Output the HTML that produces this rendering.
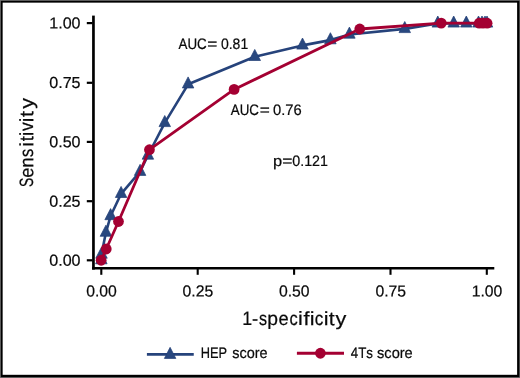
<!DOCTYPE html>
<html><head><meta charset="utf-8"><title>ROC curves: HEP score vs 4Ts score</title>
<style>
html,body{margin:0;padding:0;background:#fff;}
body{width:520px;height:378px;overflow:hidden;}
svg{display:block;will-change:transform;}
text{font-family:"Liberation Sans",sans-serif;fill:#0a0a0a;stroke:#0a0a0a;stroke-width:0.22px;font-kerning:none;font-variant-ligatures:none;}
</style></head><body>
<svg width="520" height="378" viewBox="0 0 520 378">
<rect x="0" y="0" width="520" height="378" fill="#6e6e6e"/>
<rect x="0.85" y="0.85" width="518.5" height="376.3" fill="#000"/>
<rect x="2.65" y="2.65" width="514.45" height="372.15" fill="#fff"/>

<g stroke="#000" fill="none" stroke-linecap="butt">
<path d="M93.45 15.6V269.6" stroke-width="2.7"/>
<path d="M92.1 268.25H494.3" stroke-width="2.7"/>
<path d="M86.8 23.1H92.5" stroke-width="2.2"/>
<path d="M86.8 82.8H92.5" stroke-width="2.2"/>
<path d="M86.8 141.9H92.5" stroke-width="2.2"/>
<path d="M86.8 201.2H92.5" stroke-width="2.2"/>
<path d="M86.8 260.3H92.5" stroke-width="2.2"/>
<path d="M101.3 269V274.8" stroke-width="2.1"/>
<path d="M197.7 269V274.8" stroke-width="2.1"/>
<path d="M294.1 269V274.8" stroke-width="2.1"/>
<path d="M390.5 269V274.8" stroke-width="2.1"/>
<path d="M486.8 269V274.8" stroke-width="2.1"/>
</g>
<text x="49.27" y="28.60" font-size="16" textLength="31.25" lengthAdjust="spacingAndGlyphs" transform="rotate(0.03 49.27 28.60)">1.00</text>
<text x="49.27" y="87.95" font-size="16" textLength="31.25" lengthAdjust="spacingAndGlyphs" transform="rotate(0.03 49.27 87.95)">0.75</text>
<text x="49.27" y="147.25" font-size="16" textLength="31.25" lengthAdjust="spacingAndGlyphs" transform="rotate(0.03 49.27 147.25)">0.50</text>
<text x="49.27" y="206.65" font-size="16" textLength="31.25" lengthAdjust="spacingAndGlyphs" transform="rotate(0.03 49.27 206.65)">0.25</text>
<text x="49.27" y="265.65" font-size="16" textLength="31.25" lengthAdjust="spacingAndGlyphs" transform="rotate(0.03 49.27 265.65)">0.00</text>
<text x="86.19" y="296.50" font-size="16" textLength="30.63" lengthAdjust="spacingAndGlyphs" transform="rotate(0.03 86.19 296.50)">0.00</text>
<text x="182.59" y="296.50" font-size="16" textLength="30.63" lengthAdjust="spacingAndGlyphs" transform="rotate(0.03 182.59 296.50)">0.25</text>
<text x="278.99" y="296.50" font-size="16" textLength="30.63" lengthAdjust="spacingAndGlyphs" transform="rotate(0.03 278.99 296.50)">0.50</text>
<text x="375.39" y="296.50" font-size="16" textLength="30.63" lengthAdjust="spacingAndGlyphs" transform="rotate(0.03 375.39 296.50)">0.75</text>
<text x="471.69" y="296.50" font-size="16" textLength="30.63" lengthAdjust="spacingAndGlyphs" transform="rotate(0.03 471.69 296.50)">1.00</text>
<text y="325.10" font-size="19.3" transform="rotate(0.03 242.14 325.10)"><tspan x="242.14" textLength="9.93" lengthAdjust="spacingAndGlyphs">1</tspan><tspan x="251.88" textLength="6.14" lengthAdjust="spacingAndGlyphs">-</tspan><tspan x="258.95" textLength="8.03" lengthAdjust="spacingAndGlyphs">s</tspan><tspan x="267.25" textLength="10.76" lengthAdjust="spacingAndGlyphs">p</tspan><tspan x="278.52" textLength="10.19" lengthAdjust="spacingAndGlyphs">e</tspan><tspan x="289.40" textLength="8.23" lengthAdjust="spacingAndGlyphs">c</tspan><tspan x="297.95" textLength="4.80" lengthAdjust="spacingAndGlyphs">i</tspan><tspan x="303.53" textLength="6.01" lengthAdjust="spacingAndGlyphs">f</tspan><tspan x="309.80" textLength="4.80" lengthAdjust="spacingAndGlyphs">i</tspan><tspan x="314.77" textLength="8.58" lengthAdjust="spacingAndGlyphs">c</tspan><tspan x="323.80" textLength="4.80" lengthAdjust="spacingAndGlyphs">i</tspan><tspan x="328.68" textLength="5.87" lengthAdjust="spacingAndGlyphs">t</tspan><tspan x="335.45" textLength="10.79" lengthAdjust="spacingAndGlyphs">y</tspan></text>
<text y="0.00" font-size="19.3" transform="translate(33.3 186.3) rotate(-89.97)"><tspan x="-0.68" textLength="9.27" lengthAdjust="spacingAndGlyphs">S</tspan><tspan x="8.52" textLength="10.19" lengthAdjust="spacingAndGlyphs">e</tspan><tspan x="18.55" textLength="10.47" lengthAdjust="spacingAndGlyphs">n</tspan><tspan x="29.34" textLength="8.26" lengthAdjust="spacingAndGlyphs">s</tspan><tspan x="39.60" textLength="4.80" lengthAdjust="spacingAndGlyphs">i</tspan><tspan x="45.02" textLength="5.11" lengthAdjust="spacingAndGlyphs">t</tspan><tspan x="50.31" textLength="4.30" lengthAdjust="spacingAndGlyphs">i</tspan><tspan x="55.24" textLength="8.72" lengthAdjust="spacingAndGlyphs">v</tspan><tspan x="64.03" textLength="4.55" lengthAdjust="spacingAndGlyphs">i</tspan><tspan x="69.24" textLength="6.01" lengthAdjust="spacingAndGlyphs">t</tspan><tspan x="77.59" textLength="10.81" lengthAdjust="spacingAndGlyphs">y</tspan></text>
<text x="178.47" y="49.00" font-size="15.1" textLength="28.24" lengthAdjust="spacingAndGlyphs" transform="rotate(0.03 178.47 49.00)">AUC</text>
<text x="207.36" y="49.00" font-size="15.1" textLength="10.10" lengthAdjust="spacingAndGlyphs" transform="rotate(0.03 207.36 49.00)">=</text>
<text x="220.95" y="49.00" font-size="15.1" textLength="27.23" lengthAdjust="spacingAndGlyphs" transform="rotate(0.03 220.95 49.00)">0.81</text>
<text x="230.82" y="115.00" font-size="15.1" textLength="28.18" lengthAdjust="spacingAndGlyphs" transform="rotate(0.03 230.82 115.00)">AUC</text>
<text x="259.66" y="115.00" font-size="15.1" textLength="10.10" lengthAdjust="spacingAndGlyphs" transform="rotate(0.03 259.66 115.00)">=</text>
<text x="273.02" y="115.00" font-size="15.1" textLength="28.65" lengthAdjust="spacingAndGlyphs" transform="rotate(0.03 273.02 115.00)">0.76</text>
<text x="273.14" y="165.90" font-size="15.1" textLength="9.15" lengthAdjust="spacingAndGlyphs" transform="rotate(0.03 273.14 165.90)">p</text>
<text x="282.35" y="165.90" font-size="15.1" textLength="10.22" lengthAdjust="spacingAndGlyphs" transform="rotate(0.03 282.35 165.90)">=</text>
<text x="292.24" y="165.90" font-size="15.1" textLength="35.76" lengthAdjust="spacingAndGlyphs" transform="rotate(0.03 292.24 165.90)">0.121</text>
<polyline points="101.35,260.10 101.50,254.50 105.90,232.60 110.60,216.00 121.10,193.80 140.10,171.70 147.90,155.50 164.75,122.90 188.10,84.30 254.75,56.80 302.50,45.40 330.40,40.10 349.40,34.50 404.75,28.90 437.80,23.40 453.70,23.40 466.30,23.40 478.50,23.40 482.00,23.40 485.00,23.40 487.00,23.40" fill="none" stroke="#26437b" stroke-width="2.6" stroke-linejoin="round"/>
<g fill="#29487f" stroke="#213d75" stroke-width="0.7" stroke-linejoin="miter"><path d="M101.35 252.70L107.10 263.80L95.60 263.80Z"/><path d="M101.50 247.10L107.25 258.20L95.75 258.20Z"/><path d="M105.90 225.20L111.65 236.30L100.15 236.30Z"/><path d="M110.60 208.60L116.35 219.70L104.85 219.70Z"/><path d="M121.10 186.40L126.85 197.50L115.35 197.50Z"/><path d="M140.10 164.30L145.85 175.40L134.35 175.40Z"/><path d="M147.90 148.10L153.65 159.20L142.15 159.20Z"/><path d="M164.75 115.50L170.50 126.60L159.00 126.60Z"/><path d="M188.10 76.90L193.85 88.00L182.35 88.00Z"/><path d="M254.75 49.40L260.50 60.50L249.00 60.50Z"/><path d="M302.50 38.00L308.25 49.10L296.75 49.10Z"/><path d="M330.40 32.70L336.15 43.80L324.65 43.80Z"/><path d="M349.40 27.10L355.15 38.20L343.65 38.20Z"/><path d="M404.75 21.50L410.50 32.60L399.00 32.60Z"/><path d="M437.80 16.00L443.55 27.10L432.05 27.10Z"/><path d="M453.70 16.00L459.45 27.10L447.95 27.10Z"/><path d="M466.30 16.00L472.05 27.10L460.55 27.10Z"/><path d="M478.50 16.00L484.25 27.10L472.75 27.10Z"/><path d="M482.00 16.00L487.75 27.10L476.25 27.10Z"/><path d="M485.00 16.00L490.75 27.10L479.25 27.10Z"/><path d="M487.00 16.00L492.75 27.10L481.25 27.10Z"/></g>
<polyline points="101.15,260.25 106.25,249.00 118.50,221.50 149.45,149.70 234.10,89.40 359.75,29.00 441.25,23.10 479.20,23.20 483.00,23.20 487.10,23.20" fill="none" stroke="#a40032" stroke-width="2.8" stroke-linejoin="round"/>
<g fill="#a40032"><circle cx="101.15" cy="260.25" r="5.38"/><circle cx="106.25" cy="249" r="5.38"/><circle cx="118.5" cy="221.5" r="5.38"/><circle cx="149.45" cy="149.7" r="5.38"/><circle cx="234.1" cy="89.4" r="5.38"/><circle cx="359.75" cy="29" r="5.38"/><circle cx="441.25" cy="23.1" r="5.38"/><circle cx="479.2" cy="23.2" r="5.38"/><circle cx="483" cy="23.2" r="5.38"/><circle cx="487.1" cy="23.2" r="5.38"/></g>
<path d="M146.9 354.4H193.75" stroke="#26437b" stroke-width="2.7" fill="none"/>
<g fill="#29487f" stroke="#213d75" stroke-width="0.7"><path d="M170.10 347.35L175.85 358.45L164.35 358.45Z"/></g>
<text x="200.75" y="358.00" font-size="15.2" textLength="26.33" lengthAdjust="spacingAndGlyphs" transform="rotate(0.03 200.75 358.00)">HEP</text>
<text x="232.20" y="358.00" font-size="15.2" textLength="35.34" lengthAdjust="spacingAndGlyphs" transform="rotate(0.03 232.20 358.00)">score</text>
<path d="M296.9 353.25H344" stroke="#a40032" stroke-width="2.9" fill="none"/>
<circle cx="320.4" cy="353.25" r="5.38" fill="#a40032"/>
<text x="350.79" y="358.00" font-size="15.2" textLength="22.19" lengthAdjust="spacingAndGlyphs" transform="rotate(0.03 350.79 358.00)">4Ts</text>
<text x="377.09" y="358.00" font-size="15.2" textLength="35.65" lengthAdjust="spacingAndGlyphs" transform="rotate(0.03 377.09 358.00)">score</text>
</svg></body></html>
